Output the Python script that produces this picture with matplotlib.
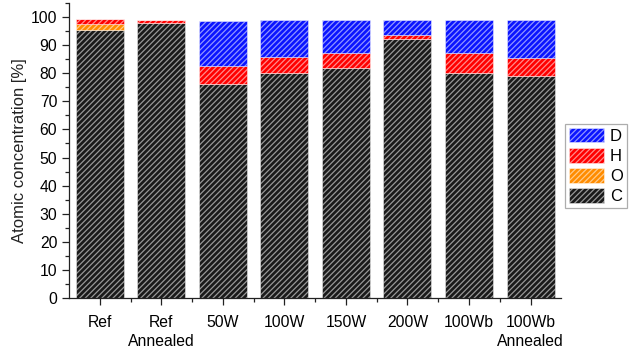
import numpy as np
import matplotlib
matplotlib.use('Agg')
import matplotlib.pyplot as plt
from matplotlib.patches import Patch
from matplotlib.ticker import MultipleLocator, FixedLocator

plt.rcParams['font.family'] = ['Liberation Sans', 'DejaVu Sans']
plt.rcParams['hatch.linewidth'] = 0.9

# values (atomic %)
samples = ['Ref', 'Ref\nAnnealed', '50W', '100W', '150W', '200W', '100Wb', '100Wb\nAnnealed']
C = [95.5, 97.8, 76.2, 80.0, 81.7, 92.0, 80.0, 79.0]
O = [2.1, 0.0, 0.0, 0.0, 0.0, 0.0, 0.0, 0.0]
H = [1.6, 1.1, 6.5, 5.8, 5.6, 1.7, 7.2, 6.2]
D = [0.0, 0.0, 15.9, 13.0, 11.5, 5.1, 11.6, 13.6]

colors = {'C': '#1a1a1a', 'O': '#ff8c00', 'H': '#ff0000', 'D': '#0a14ff'}
hatch_col = (1, 1, 1, 0.55)

fig = plt.figure(figsize=(6.4, 3.48), dpi=100)
ax = fig.add_axes([0.108, 0.143, 0.769, 0.849])

x = np.arange(1, len(samples) + 1)
bottom = np.zeros(len(samples))
for name, vals in [('C', C), ('O', O), ('H', H), ('D', D)]:
    vals = np.array(vals)
    ax.bar(x, vals, width=0.78, bottom=bottom, color=colors[name],
           edgecolor=hatch_col, linewidth=0.6, hatch='//////')
    bottom += vals

ax.set_xlim(0.5, 8.5)
ax.set_ylim(0, 105)
ax.set_xticks(x)
ax.set_xticklabels(samples, fontsize=11.3, linespacing=1.3)
ax.xaxis.set_minor_locator(FixedLocator(x[:-1] + 0.5))
ax.yaxis.set_major_locator(MultipleLocator(10))
ax.yaxis.set_minor_locator(MultipleLocator(5))
ax.tick_params(axis='both', which='major', direction='out', length=5, width=0.9,
               labelsize=11.3, color='#222222')
ax.tick_params(axis='both', which='minor', direction='out', length=3, width=0.9, color='#222222')
ax.tick_params(axis='x', which='major', pad=7)
ax.set_ylabel('Atomic concentration [%]', fontsize=12, color='#222222', labelpad=3)
for s in ['top', 'right']:
    ax.spines[s].set_visible(False)
for s in ['left', 'bottom']:
    ax.spines[s].set_linewidth(0.9)
    ax.spines[s].set_color('#222222')

handles = [Patch(facecolor=colors[n], edgecolor=hatch_col, hatch='//////', linewidth=0.6)
           for n in ['D', 'H', 'O', 'C']]
leg = fig.legend(handles, ['D', 'H', 'O', 'C'], loc='upper left',
                 bbox_to_anchor=(0.883, 0.644), fontsize=12, frameon=True, fancybox=False,
                 edgecolor='#999999', handlelength=2.1, handleheight=0.95,
                 labelspacing=0.25, borderpad=0.25, handletextpad=0.35, borderaxespad=0)
leg.get_frame().set_linewidth(0.9)

fig.savefig('out.png', dpi=100)
